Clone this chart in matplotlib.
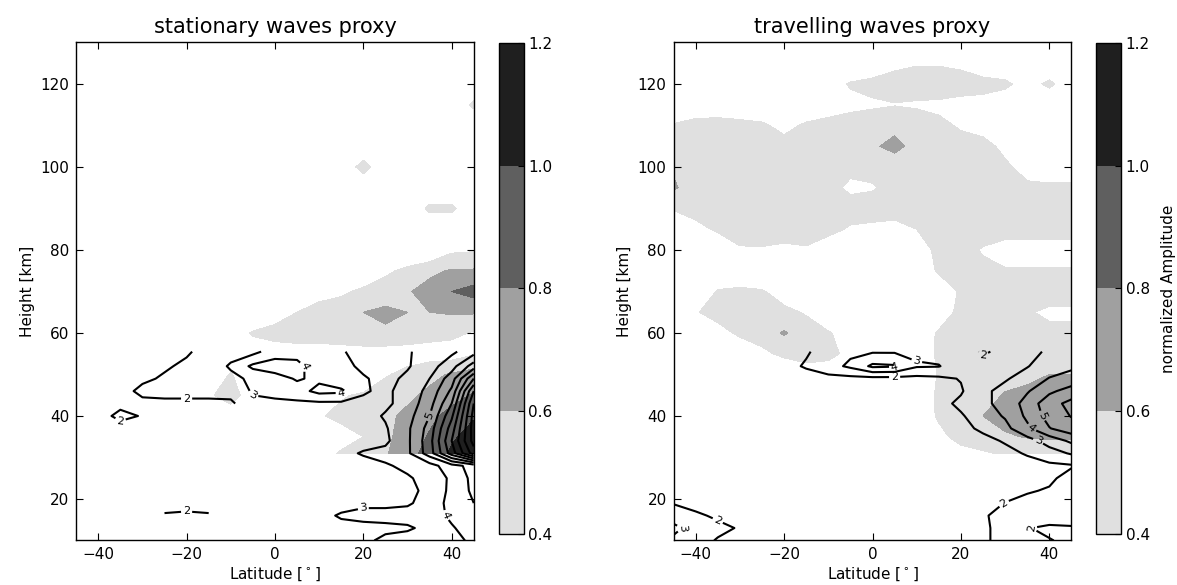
import numpy as np
import matplotlib
matplotlib.use("Agg")
import matplotlib.pyplot as plt

nan = np.nan

# grid
lat = [-45, -40, -35, -30, -25, -20, -15, -10, -5, 0, 5, 10, 15, 20, 25, 30, 35, 40, 45]
fill_height = [130, 125, 120, 115, 110, 105, 100, 95, 90, 85, 80, 75, 70, 65, 60, 55, 50, 45, 40, 35, 31]
line_height = [55.5, 52, 49, 46, 43, 40, 37, 34, 31, 28, 25, 22, 19, 16, 13, 10]

# normalized amplitude, stationary waves (filled contours)
stat_amp = [
    # -45  -40  -35  -30  -25  -20  -15  -10   -5    0    5   10   15   20   25   30   35   40   45
    [0.2, 0.2, 0.2, 0.2, 0.2, 0.2, 0.2, 0.2, 0.2, 0.2, 0.2, 0.2, 0.2, 0.2, 0.2, 0.2, 0.2, 0.2, 0.2],   # 130
    [0.2, 0.2, 0.2, 0.2, 0.2, 0.2, 0.2, 0.2, 0.2, 0.2, 0.2, 0.2, 0.2, 0.2, 0.2, 0.2, 0.2, 0.2, 0.2],   # 125
    [0.2, 0.2, 0.2, 0.2, 0.2, 0.2, 0.2, 0.2, 0.2, 0.2, 0.2, 0.2, 0.2, 0.2, 0.2, 0.2, 0.2, 0.2, 0.2],   # 120
    [0.2, 0.2, 0.2, 0.2, 0.2, 0.2, 0.2, 0.2, 0.2, 0.2, 0.2, 0.2, 0.2, 0.2, 0.2, 0.2, 0.2, 0.2, 0.45],  # 115
    [0.2, 0.2, 0.2, 0.2, 0.2, 0.2, 0.2, 0.2, 0.2, 0.2, 0.2, 0.2, 0.2, 0.2, 0.2, 0.2, 0.2, 0.2, 0.2],   # 110
    [0.2, 0.2, 0.2, 0.2, 0.2, 0.2, 0.2, 0.2, 0.2, 0.2, 0.2, 0.2, 0.2, 0.2, 0.2, 0.2, 0.2, 0.2, 0.2],   # 105
    [0.2, 0.2, 0.2, 0.2, 0.2, 0.2, 0.2, 0.2, 0.2, 0.2, 0.2, 0.2, 0.2, 0.5, 0.2, 0.2, 0.2, 0.2, 0.2],   # 100
    [0.2, 0.2, 0.2, 0.2, 0.2, 0.2, 0.2, 0.2, 0.2, 0.2, 0.2, 0.2, 0.2, 0.2, 0.2, 0.2, 0.2, 0.2, 0.2],   # 95
    [0.2, 0.2, 0.2, 0.2, 0.2, 0.2, 0.2, 0.2, 0.2, 0.2, 0.2, 0.2, 0.2, 0.2, 0.2, 0.2, 0.45, 0.45, 0.2], # 90
    [0.2, 0.2, 0.2, 0.2, 0.2, 0.2, 0.2, 0.2, 0.2, 0.2, 0.2, 0.2, 0.2, 0.2, 0.2, 0.2, 0.2, 0.2, 0.2],   # 85
    [0.2, 0.2, 0.2, 0.2, 0.2, 0.2, 0.2, 0.2, 0.2, 0.2, 0.2, 0.2, 0.2, 0.2, 0.2, 0.2, 0.2, 0.36, 0.38], # 80
    [0.2, 0.2, 0.2, 0.2, 0.2, 0.2, 0.2, 0.2, 0.2, 0.2, 0.2, 0.2, 0.2, 0.2, 0.36, 0.45, 0.55, 0.62, 0.62],  # 75
    [0.2, 0.2, 0.2, 0.2, 0.2, 0.2, 0.2, 0.2, 0.2, 0.2, 0.2, 0.3, 0.36, 0.45, 0.5, 0.58, 0.68, 0.8, 0.88],  # 70
    [0.2, 0.2, 0.2, 0.2, 0.2, 0.2, 0.2, 0.2, 0.2, 0.3, 0.4, 0.5, 0.52, 0.6, 0.64, 0.6, 0.6, 0.62, 0.62],  # 65
    [0.2, 0.2, 0.2, 0.2, 0.2, 0.2, 0.2, 0.3, 0.42, 0.47, 0.5, 0.5, 0.53, 0.57, 0.57, 0.53, 0.48, 0.45, 0.38],  # 60
    [0.2, 0.2, 0.2, 0.2, 0.2, 0.2, 0.2, 0.2, 0.3, 0.3, 0.3, 0.3, 0.3, 0.3, 0.3, 0.3, 0.3, 0.3, 0.38],  # 55
    [0.2, 0.2, 0.2, 0.2, 0.2, 0.2, 0.2, 0.42, 0.2, 0.2, 0.2, 0.2, 0.2, 0.2, 0.38, 0.46, 0.55, 0.62, 0.68],  # 50
    [0.2, 0.2, 0.2, 0.2, 0.2, 0.2, 0.35, 0.55, 0.2, 0.2, 0.2, 0.2, 0.38, 0.43, 0.5, 0.56, 0.64, 0.72, 0.82],  # 45
    [0.2, 0.2, 0.2, 0.2, 0.2, 0.2, 0.2, 0.2, 0.2, 0.2, 0.2, 0.38, 0.45, 0.5, 0.56, 0.64, 0.75, 0.87, 0.98],  # 40
    [0.2, 0.2, 0.2, 0.2, 0.2, 0.2, 0.2, 0.2, 0.2, 0.2, 0.2, 0.3, 0.32, 0.4, 0.56, 0.68, 0.82, 0.97, 1.08],  # 35
    [0.2, 0.2, 0.2, 0.2, 0.2, 0.2, 0.2, 0.2, 0.2, 0.2, 0.2, 0.32, 0.42, 0.5, 0.58, 0.72, 0.88, 1.03, 1.15],  # 31
]

# normalized amplitude, travelling waves (filled contours)
trav_amp = [
    # -45  -40  -35  -30  -25  -20  -15  -10   -5    0    5   10   15   20   25   30   35   40   45
    [0.2, 0.2, 0.2, 0.2, 0.2, 0.2, 0.2, 0.2, 0.2, 0.2, 0.2, 0.2, 0.2, 0.2, 0.2, 0.2, 0.2, 0.2, 0.2],   # 130
    [0.2, 0.2, 0.2, 0.2, 0.2, 0.2, 0.2, 0.2, 0.2, 0.2, 0.34, 0.38, 0.38, 0.35, 0.2, 0.2, 0.2, 0.2, 0.2],  # 125
    [0.2, 0.2, 0.2, 0.2, 0.2, 0.2, 0.2, 0.3, 0.42, 0.48, 0.5, 0.52, 0.52, 0.5, 0.5, 0.45, 0.3, 0.45, 0.25],  # 120
    [0.3, 0.3, 0.3, 0.3, 0.3, 0.3, 0.3, 0.32, 0.34, 0.36, 0.39, 0.37, 0.36, 0.33, 0.3, 0.25, 0.2, 0.2, 0.2],  # 115
    [0.41, 0.45, 0.46, 0.44, 0.42, 0.36, 0.42, 0.45, 0.5, 0.55, 0.56, 0.52, 0.44, 0.38, 0.35, 0.3, 0.25, 0.2, 0.2],  # 110
    [0.5, 0.55, 0.55, 0.52, 0.5, 0.45, 0.5, 0.52, 0.55, 0.58, 0.64, 0.55, 0.5, 0.46, 0.44, 0.37, 0.28, 0.25, 0.25],  # 105
    [0.58, 0.52, 0.5, 0.5, 0.5, 0.5, 0.5, 0.48, 0.45, 0.47, 0.52, 0.55, 0.55, 0.55, 0.5, 0.42, 0.36, 0.3, 0.3],  # 100
    [0.62, 0.52, 0.5, 0.5, 0.5, 0.52, 0.5, 0.46, 0.36, 0.38, 0.48, 0.55, 0.55, 0.55, 0.53, 0.48, 0.42, 0.43, 0.43],  # 95
    [0.41, 0.45, 0.48, 0.5, 0.5, 0.5, 0.5, 0.5, 0.48, 0.5, 0.45, 0.48, 0.52, 0.55, 0.52, 0.5, 0.5, 0.5, 0.5],  # 90
    [0.3, 0.36, 0.42, 0.48, 0.5, 0.5, 0.48, 0.45, 0.38, 0.35, 0.36, 0.4, 0.48, 0.52, 0.5, 0.5, 0.5, 0.5, 0.5],  # 85
    [0.2, 0.25, 0.3, 0.38, 0.38, 0.35, 0.38, 0.3, 0.25, 0.22, 0.25, 0.3, 0.45, 0.48, 0.38, 0.3, 0.3, 0.3, 0.3],  # 80
    [0.2, 0.2, 0.2, 0.2, 0.2, 0.2, 0.2, 0.2, 0.2, 0.2, 0.2, 0.3, 0.42, 0.5, 0.45, 0.42, 0.42, 0.42, 0.42],  # 75
    [0.2, 0.2, 0.42, 0.45, 0.42, 0.3, 0.2, 0.2, 0.2, 0.2, 0.2, 0.2, 0.3, 0.42, 0.5, 0.5, 0.5, 0.5, 0.5],  # 70
    [0.2, 0.38, 0.5, 0.52, 0.5, 0.45, 0.38, 0.2, 0.2, 0.2, 0.2, 0.2, 0.3, 0.45, 0.5, 0.48, 0.42, 0.36, 0.36],  # 65
    [0.2, 0.2, 0.3, 0.45, 0.5, 0.62, 0.5, 0.42, 0.3, 0.2, 0.2, 0.3, 0.42, 0.5, 0.52, 0.5, 0.48, 0.45, 0.45],  # 60
    [0.2, 0.2, 0.2, 0.2, 0.35, 0.45, 0.48, 0.45, 0.35, 0.2, 0.2, 0.32, 0.42, 0.5, 0.52, 0.5, 0.5, 0.5, 0.5],  # 55
    [0.2, 0.2, 0.2, 0.2, 0.2, 0.2, 0.3, 0.3, 0.2, 0.2, 0.2, 0.3, 0.41, 0.48, 0.5, 0.5, 0.58, 0.6, 0.6],  # 50
    [0.2, 0.2, 0.2, 0.2, 0.2, 0.2, 0.2, 0.2, 0.2, 0.2, 0.2, 0.32, 0.42, 0.48, 0.5, 0.62, 0.62, 0.68, 0.7],  # 45
    [0.2, 0.2, 0.2, 0.2, 0.2, 0.2, 0.2, 0.2, 0.2, 0.2, 0.2, 0.3, 0.42, 0.52, 0.6, 0.66, 0.68, 0.7, 0.7],  # 40
    [0.2, 0.2, 0.2, 0.2, 0.2, 0.2, 0.2, 0.2, 0.2, 0.2, 0.2, 0.2, 0.36, 0.45, 0.5, 0.58, 0.61, 0.62, 0.62],  # 35
    [0.2, 0.2, 0.2, 0.2, 0.2, 0.2, 0.2, 0.2, 0.2, 0.2, 0.2, 0.2, 0.3, 0.35, 0.38, 0.42, 0.48, 0.5, 0.5],  # 31
]

# proxy (line contours), stationary waves
stat_proxy = [
    # -45  -40  -35  -30  -25  -20  -15  -10   -5    0    5   10   15   20   25   30   35   40   45
    [nan, nan, 1.6, 1.7, 1.8, 1.9, 2.3, 2.4, 2.7, 3.5, 3.6, 3.9, 3.1, 2.6, 2.5, 2.9, 3.4, 3.8, 4.6],   # 55.5
    [nan, nan, 1.6, 1.8, 1.9, 2.15, 2.1, 3.2, 4.2, 4.5, 4.3, 3.4, 3.3, 2.8, 2.7, 2.9, 3.6, 4.6, 6.5],  # 52
    [nan, nan, 1.6, 1.85, 2.1, 2.3, 2.4, 2.6, 3.3, 3.6, 4.1, 3.8, 3.2, 3.1, 2.7, 3.2, 4.0, 5.5, 9.0],  # 49
    [nan, nan, 1.7, 2.2, 2.3, 2.3, 2.3, 2.4, 3.1, 3.3, 3.6, 4.3, 4.2, 3.1, 2.8, 3.4, 4.3, 6.2, 11.0],  # 46
    [nan, 1.7, 1.8, 1.8, 1.8, 1.8, 1.8, 1.8, 2.8, 2.8, 2.8, 2.8, 2.8, 2.8, 2.8, 3.4, 4.6, 7.0, 12.0],  # 43
    [nan, 1.7, 2.2, 1.95, nan, nan, nan, nan, nan, nan, nan, nan, 2.6, 2.6, 3.1, 3.6, 5.0, 7.8, 12.4],  # 40
    [nan, 1.7, 1.7, 1.7, nan, nan, nan, nan, nan, nan, nan, nan, 2.5, 2.5, 2.9, 3.8, 5.4, 8.5, 12.5],  # 37
    [nan, nan, nan, nan, nan, nan, nan, nan, nan, nan, nan, nan, 2.6, 2.6, 2.8, 3.8, 5.6, 9.0, 12.4],  # 34
    [nan, nan, nan, nan, nan, nan, nan, nan, nan, nan, nan, 2.5, 2.7, 3.1, 3.3, 3.8, 5.5, 8.5, 11.5],  # 31
    [nan, nan, nan, nan, nan, nan, nan, nan, nan, nan, nan, 2.4, 2.4, 2.6, 2.9, 3.2, 3.6, 4.6, 5.4],   # 28
    [nan, nan, nan, nan, nan, nan, nan, nan, nan, nan, nan, 2.3, 2.3, 2.5, 2.7, 2.9, 3.3, 4.2, 5.3],   # 25
    [nan, nan, nan, nan, nan, nan, nan, nan, nan, nan, nan, 2.3, 2.3, 2.6, 2.8, 2.9, 3.1, 4.3, 5.2],   # 22
    [nan, nan, nan, nan, 1.8, 1.8, 1.8, nan, nan, nan, nan, 2.3, 2.5, 2.8, 2.8, 2.9, 3.3, 4.4, 5.0],   # 19
    [nan, nan, nan, nan, 2.05, 2.1, 2.05, nan, nan, nan, nan, 2.6, 3.15, 3.3, 3.3, 3.3, 3.5, 4.2, 4.8],  # 16
    [nan, nan, nan, nan, 2.3, 2.3, 2.3, nan, nan, nan, nan, 2.4, 2.6, 2.7, 2.8, 2.9, 3.2, 3.9, 4.5],   # 13
    [nan, nan, nan, nan, nan, nan, nan, nan, nan, nan, nan, 2.3, 2.5, 2.8, 3.2, 3.3, 3.4, 3.7, 4.2],   # 10
]

# proxy (line contours), travelling waves
trav_proxy = [
    # -45  -40  -35  -30  -25  -20  -15  -10   -5    0    5   10   15   20   25   30   35   40   45
    [1.2, 1.2, 1.2, 1.3, 1.4, 1.6, 1.9, 2.4, 2.8, 2.9, 2.9, 2.8, 2.6, 2.4, 1.9, 2.2, 2.8, 3.1, 3.3],   # 55.5
    [1.2, 1.2, 1.2, 1.3, 1.5, 1.7, 2.1, 2.6, 3.2, 4.2, 4.1, 3.1, 3.05, 2.4, 2.3, 2.6, 2.95, 3.5, 3.8],  # 52
    [1.3, 1.3, 1.3, 1.4, 1.5, 1.6, 1.6, 1.7, 1.7, 1.7, 1.7, 1.7, 1.8, 2.05, 2.6, 2.9, 3.4, 4.05, 4.4],  # 49
    [1.4, 1.4, 1.4, 1.5, 1.5, 1.5, 1.6, 1.6, 1.6, 1.6, 1.6, 1.6, 1.6, 1.9, 2.8, 3.3, 3.9, 4.8, 5.4],   # 46
    [1.4, 1.4, 1.4, 1.5, 1.5, 1.5, 1.5, 1.6, 1.6, 1.6, 1.6, 1.6, 1.7, 2.2, 2.8, 3.3, 4.4, 5.6, 6.3],   # 43
    [1.4, 1.4, 1.4, 1.5, 1.5, 1.5, 1.5, 1.5, 1.6, 1.6, 1.6, 1.6, 1.6, 1.9, 2.5, 3.1, 4.2, 5.4, 6.05],  # 40
    [1.4, 1.4, 1.4, 1.4, 1.5, 1.5, 1.5, 1.5, 1.5, 1.5, 1.6, 1.6, 1.6, 1.7, 2.2, 2.7, 3.8, 4.95, 5.6],  # 37
    [1.4, 1.4, 1.4, 1.4, 1.4, 1.5, 1.5, 1.5, 1.5, 1.5, 1.5, 1.5, 1.6, 1.6, 1.7, 2.1, 2.6, 3.4, 4.2],   # 34
    [1.4, 1.4, 1.4, 1.4, 1.4, 1.4, 1.5, 1.5, 1.5, 1.5, 1.5, 1.5, 1.5, 1.5, 1.5, 1.7, 2.1, 2.6, 3.1],   # 31
    [1.4, 1.4, 1.4, 1.4, 1.4, 1.4, 1.4, 1.5, 1.5, 1.5, 1.5, 1.5, 1.5, 1.5, 1.5, 1.5, 1.6, 1.8, 1.9],   # 28
    [1.4, 1.4, 1.4, 1.4, 1.4, 1.4, 1.4, 1.4, 1.5, 1.5, 1.5, 1.5, 1.5, 1.5, 1.5, 1.6, 1.7, 1.8, 2.4],   # 25
    [1.5, 1.4, 1.4, 1.4, 1.4, 1.4, 1.4, 1.4, 1.4, 1.5, 1.5, 1.5, 1.5, 1.5, 1.6, 1.7, 1.9, 2.1, 2.5],   # 22
    [1.95, 1.6, 1.5, 1.4, 1.4, 1.4, 1.4, 1.4, 1.4, 1.4, 1.5, 1.5, 1.5, 1.6, 1.7, 2.02, 2.3, 2.5, 2.6],  # 19
    [2.5, 2.2, 1.8, 1.6, 1.5, 1.4, 1.4, 1.4, 1.4, 1.4, 1.5, 1.5, 1.5, 1.7, 1.9, 2.3, 2.5, 2.6, 2.5],   # 16
    [3.25, 2.6, 2.3, 1.9, 1.6, 1.5, 1.4, 1.4, 1.4, 1.4, 1.5, 1.5, 1.6, 1.7, 1.9, 2.2, 2.05, 1.8, 1.9],  # 13
    [2.8, 2.5, 1.9, 1.6, 1.5, 1.4, 1.4, 1.4, 1.4, 1.4, 1.5, 1.5, 1.6, 1.6, 1.9, 2.2, 2.3, 2.05, 1.8],  # 10
]

amp_levels = [0.4, 0.6, 0.8, 1.0, 1.2]
proxy_levels = [2, 3, 4, 5, 6, 7, 8, 9, 10, 11, 12]
label_levels = [2, 3, 4, 5]

plt.rcParams['font.family'] = 'DejaVu Sans'

fig = plt.figure(figsize=(11.77, 5.85), dpi=100)

panels = [
    ("stationary waves proxy", stat_amp, stat_proxy, None,
     [0.0647, 0.0761, 0.3378, 0.8513], [0.424, 0.0872, 0.0208, 0.8393]),
    ("travelling waves proxy", trav_amp, trav_proxy, "normalized Amplitude",
     [0.5723, 0.0761, 0.3380, 0.8513], [0.9309, 0.0872, 0.0213, 0.8393]),
]

for title, amp, proxy, cb_label, ax_rect, cb_rect in panels:
    ax = fig.add_axes(ax_rect)
    cax = fig.add_axes(cb_rect)

    cf = ax.contourf(lat, fill_height, np.array(amp), levels=amp_levels,
                     cmap='gray_r', vmin=0.4, vmax=1.2)
    cs = ax.contour(lat, line_height, np.ma.masked_invalid(np.array(proxy)),
                    levels=proxy_levels, colors='black', linewidths=1.5)
    ax.clabel(cs, levels=label_levels, fmt='%d', fontsize=8, inline=True,
              inline_spacing=2)

    ax.set_xlim(-45, 45)
    ax.set_ylim(10, 130)
    ax.set_xticks([-40, -20, 0, 20, 40])
    ax.set_yticks([20, 40, 60, 80, 100, 120])
    ax.tick_params(direction='in', top=True, right=True, length=5, width=0.8,
                   labelsize=11, pad=5)
    for sp in ax.spines.values():
        sp.set_linewidth(1.0)
    ax.set_title(title, fontsize=15, pad=7)
    ax.set_xlabel(r'Latitude [$^\circ$]', fontsize=11, labelpad=2)
    ax.set_ylabel('Height [km]', fontsize=11)

    cb = fig.colorbar(cf, cax=cax, ticks=amp_levels)
    cb.ax.tick_params(direction='in', length=4, width=0.8, labelsize=11)
    cb.outline.set_linewidth(1.0)
    if cb_label:
        cb.set_label(cb_label, fontsize=11, labelpad=8)

fig.savefig("out.png", dpi=100)
